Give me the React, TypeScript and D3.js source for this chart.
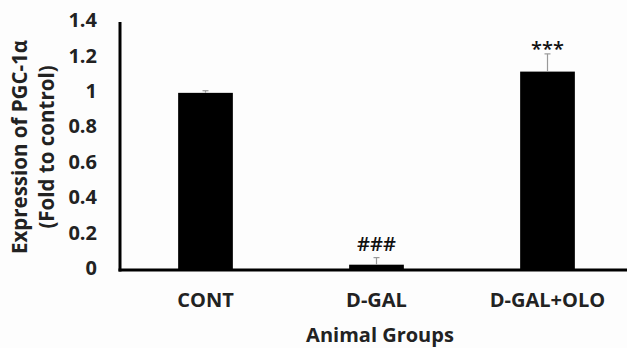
import React, { useEffect, useRef } from "react";
import * as d3 from "d3";

const groups = ["CONT", "D-GAL", "D-GAL+OLO"];
const means = [1.0, 0.03, 1.12];
const errors = [0.012, 0.04, 0.1];
const marks = ["", "###", "***"];
const yTicks = [0, 0.2, 0.4, 0.6, 0.8, 1, 1.2, 1.4];

function App() {
  const ref = useRef<SVGSVGElement>(null);

  useEffect(() => {
    const width = 627;
    const height = 348;
    const margin = { top: 22, right: -6, bottom: 78, left: 120 };
    const font = "'Open Sans', Lato, sans-serif";

    const svg = d3.select(ref.current);
    svg.selectAll("*").remove();

    svg.append("rect").attr("width", width).attr("height", height).attr("fill", "#fdfdfd");

    const x = d3
      .scaleBand()
      .domain(groups)
      .range([margin.left, width - margin.right])
      .paddingInner(0.68)
      .paddingOuter(0.34);

    const y = d3
      .scaleLinear()
      .domain([0, 1.4])
      .range([height - margin.bottom, margin.top]);

    // bars
    svg
      .selectAll("rect.bar")
      .data(groups)
      .join("rect")
      .attr("class", "bar")
      .attr("x", (d) => x(d)!)
      .attr("width", x.bandwidth())
      .attr("y", (d, i) => y(means[i]))
      .attr("height", (d, i) => y(0) - y(means[i]))
      .attr("fill", "#000");

    // error bars (upper only)
    const eb = svg.selectAll("g.err").data(groups).join("g").attr("class", "err");
    eb.append("line")
      .attr("x1", (d) => x(d)! + x.bandwidth() / 2)
      .attr("x2", (d) => x(d)! + x.bandwidth() / 2)
      .attr("y1", (d, i) => y(means[i]))
      .attr("y2", (d, i) => y(means[i] + errors[i]))
      .attr("stroke", "#999")
      .attr("stroke-width", 1.2);
    eb.append("line")
      .attr("x1", (d) => x(d)! + x.bandwidth() / 2 - 3)
      .attr("x2", (d) => x(d)! + x.bandwidth() / 2 + 3)
      .attr("y1", (d, i) => y(means[i] + errors[i]))
      .attr("y2", (d, i) => y(means[i] + errors[i]))
      .attr("stroke", "#999")
      .attr("stroke-width", 1.2);

    // significance marks
    svg
      .selectAll("text.mark")
      .data(groups)
      .join("text")
      .attr("class", "mark")
      .attr("x", (d) => x(d)! + x.bandwidth() / 2)
      .attr("y", (d, i) => y(means[i] + errors[i]) + (marks[i] === "***" ? 2 : -7))
      .attr("text-anchor", "middle")
      .attr("font-family", font)
      .attr("font-weight", 600)
      .attr("font-size", 20)
      .attr("fill", "#111")
      .text((d, i) => marks[i]);

    // axes lines
    svg
      .append("line")
      .attr("x1", margin.left)
      .attr("x2", margin.left)
      .attr("y1", y(1.4))
      .attr("y2", y(0) + 1.5)
      .attr("stroke", "#000")
      .attr("stroke-width", 3);
    svg
      .append("line")
      .attr("x1", margin.left - 1.5)
      .attr("x2", width)
      .attr("y1", y(0))
      .attr("y2", y(0))
      .attr("stroke", "#000")
      .attr("stroke-width", 3);

    // y tick labels
    svg
      .selectAll("text.ytick")
      .data(yTicks)
      .join("text")
      .attr("class", "ytick")
      .attr("x", 97)
      .attr("y", (d) => y(d) - 2)
      .attr("dy", "0.36em")
      .attr("text-anchor", "end")
      .attr("font-family", font)
      .attr("font-weight", "bold")
      .attr("font-size", 20)
      .attr("fill", "#222")
      .text((d) => d3.format("")(d));

    // x tick labels
    svg
      .selectAll("text.xtick")
      .data(groups)
      .join("text")
      .attr("class", "xtick")
      .attr("x", (d) => x(d)! + x.bandwidth() / 2)
      .attr("y", 307)
      .attr("text-anchor", "middle")
      .attr("font-family", font)
      .attr("font-weight", "bold")
      .attr("font-size", 20)
      .attr("fill", "#222")
      .text((d) => d);

    // axis titles
    svg
      .append("text")
      .attr("x", 380)
      .attr("y", 342)
      .attr("text-anchor", "middle")
      .attr("font-family", font)
      .attr("font-weight", "bold")
      .attr("font-size", 20)
      .attr("fill", "#222")
      .text("Animal Groups");

    const yt = svg
      .append("text")
      .attr("transform", "translate(27,147) rotate(-90)")
      .attr("text-anchor", "middle")
      .attr("font-family", font)
      .attr("font-weight", "bold")
      .attr("font-size", 20.5)
      .attr("fill", "#222");
    yt.append("tspan").attr("x", 0).attr("y", 0).text("Expression of PGC-1α");
    yt.append("tspan").attr("x", 0).attr("y", 27).text("(Fold to control)");
  }, []);

  return (
    <svg
      ref={ref}
      width={627}
      height={348}
      style={{ position: "absolute", left: 0, top: 0, display: "block" }}
    />
  );
}

export default App;
